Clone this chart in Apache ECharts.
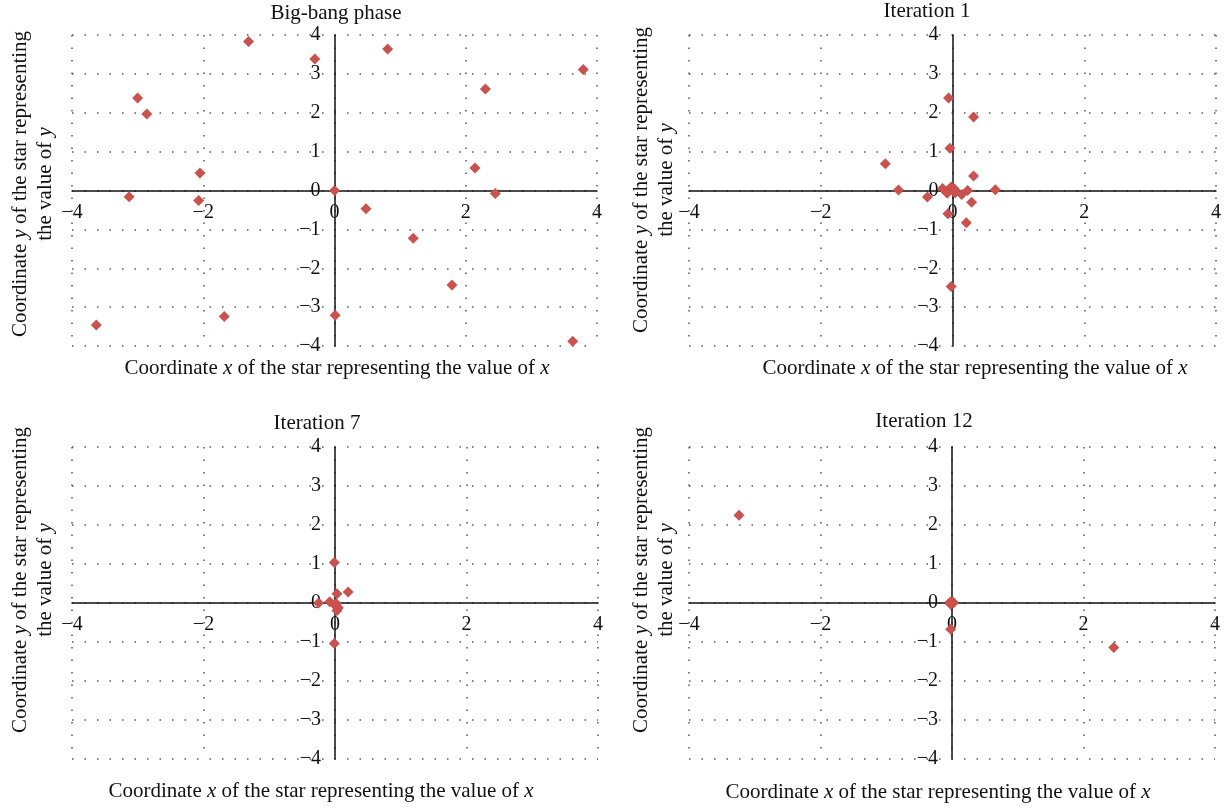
<!DOCTYPE html>
<html>
<head>
<meta charset="utf-8">
<script src="https://cdn.jsdelivr.net/npm/echarts@6/dist/echarts.min.js"></script>
<style>
html,body{margin:0;padding:0;background:#fff;}
#chart{width:1229px;height:809px;}
</style>
</head>
<body>
<div id="chart"></div>
<script>
// ---- data ----
const panelTitles = ['Big-bang phase', 'Iteration 1', 'Iteration 7', 'Iteration 12'];
const xTicks = [-4, -2, 0, 2, 4];
const yTicks = [-4, -3, -2, -1, 0, 1, 2, 3, 4];

const bigBangX = [-1.31, -0.30, 0.81, 3.79, -3.00, -2.86, 2.30, -2.05, 2.14, -3.13, -2.07, 0.00, 2.45, 0.48, 1.20, 1.79, -3.63, -1.68, 0.01, 3.63];
const bigBangY = [3.83, 3.38, 3.64, 3.11, 2.38, 1.97, 2.61, 0.45, 0.58, -0.16, -0.26, 0.00, -0.08, -0.47, -1.23, -2.43, -3.46, -3.24, -3.21, -3.88];

const iter1X = [-0.06, 0.32, -0.04, -1.02, 0.32, -0.82, 0.65, -0.38, 0.29, 0.21, -0.02, -0.07, -0.15, -0.06, -0.02, 0.03, 0.04, 0.14, 0.23, -0.08];
const iter1Y = [2.38, 1.89, 1.09, 0.69, 0.37, 0.01, 0.02, -0.17, -0.30, -0.83, -2.47, -0.60, 0.05, 0.00, 0.09, 0.04, -0.06, -0.10, 0.00, -0.07];

const iter7X = [-0.01, 0.03, 0.20, -0.25, -0.08, 0.00, 0.05, 0.03, 0.02, -0.01];
const iter7Y = [1.04, 0.24, 0.28, 0.00, 0.03, -0.06, -0.12, -0.19, -0.02, -1.04];

const iter12X = [-3.24, -0.03, -0.01, 0.01, -0.02, 0.02, -0.02, 2.46];
const iter12Y = [2.25, 0.02, -0.02, 0.03, -0.03, 0.00, -0.67, -1.14];

const panelX = [bigBangX, iter1X, iter7X, iter12X];
const panelY = [bigBangY, iter1Y, iter7Y, iter12Y];

// ---- layout ----
const grids = [
  {left: 72, top: 35, width: 525, height: 311},
  {left: 689, top: 35, width: 527, height: 311},
  {left: 72, top: 447, width: 526, height: 312},
  {left: 689, top: 447, width: 526, height: 312}
];
const titlePos = [[336, 13], [927, 11], [317, 423], [924, 421]];
const xNamePos = [[337, 368], [975, 368], [321, 791], [938, 792]];
const yNamePos = [[33, 184], [654, 180], [33, 580], [654, 580]];

const FONT = '"Liberation Serif", "DejaVu Serif", serif';
const RED = '#c9514e';
const minus = v => String(v).replace('-', '\u2212');

const xAxes = [], yAxes = [], series = [], graphics = [];
for (let i = 0; i < 4; i++) {
  const g = grids[i];
  xAxes.push({
    type: 'value', gridIndex: i, min: -4, max: 4, interval: 2,
    position: 'bottom', offset: -g.height / 2,
    axisLine: {onZero: false, lineStyle: {color: '#111', width: 1.5}},
    axisTick: {show: false},
    axisLabel: {color: '#111', fontFamily: FONT, fontSize: 20, margin: 12, formatter: minus},
    splitLine: {show: true, lineStyle: {color: '#555', width: 1.5, type: [1.5, 11]}}
  });
  yAxes.push({
    type: 'value', gridIndex: i, min: -4, max: 4, interval: 1,
    position: 'left', offset: -g.width / 2,
    axisLine: {onZero: false, lineStyle: {color: '#111', width: 1.5}},
    axisTick: {show: false},
    axisLabel: {color: '#111', fontFamily: FONT, fontSize: 20, margin: 14, formatter: minus},
    splitLine: {show: true, lineStyle: {color: '#555', width: 1.5, type: [1.5, 11]}}
  });
  series.push({
    type: 'scatter', xAxisIndex: i, yAxisIndex: i,
    symbol: 'diamond', symbolSize: 11,
    itemStyle: {color: RED, opacity: 1},
    data: panelX[i].map((x, k) => [x, panelY[i][k]])
  });
  graphics.push({
    type: 'text', x: titlePos[i][0], y: titlePos[i][1],
    style: {text: panelTitles[i], font: '21px ' + FONT, fill: '#111', align: 'center', verticalAlign: 'middle'}
  });
  graphics.push({
    type: 'text', x: xNamePos[i][0], y: xNamePos[i][1],
    style: {
      text: '{n|Coordinate }{i|x}{n| of the star representing the value of }{i|x}',
      align: 'center', verticalAlign: 'middle', fill: '#111',
      rich: {
        n: {fontFamily: FONT, fontSize: 21, fill: '#111'},
        i: {fontFamily: FONT, fontSize: 21, fontStyle: 'italic', fill: '#111'}
      }
    }
  });
  graphics.push({
    type: 'text', x: yNamePos[i][0], y: yNamePos[i][1], rotation: Math.PI / 2,
    style: {
      text: '{n|Coordinate }{i|y}{n| of the star representing}\n{n|the value of }{i|y}',
      align: 'center', verticalAlign: 'middle', fill: '#111',
      rich: {
        n: {fontFamily: FONT, fontSize: 21, fill: '#111', lineHeight: 25},
        i: {fontFamily: FONT, fontSize: 21, fontStyle: 'italic', fill: '#111', lineHeight: 25}
      }
    }
  });
}

const chart = echarts.init(document.getElementById('chart'), null, {renderer: 'canvas'});
chart.setOption({
  backgroundColor: '#ffffff',
  animation: false,
  grid: grids,
  xAxis: xAxes,
  yAxis: yAxes,
  series: series,
  graphic: graphics
});
</script>
</body>
</html>
